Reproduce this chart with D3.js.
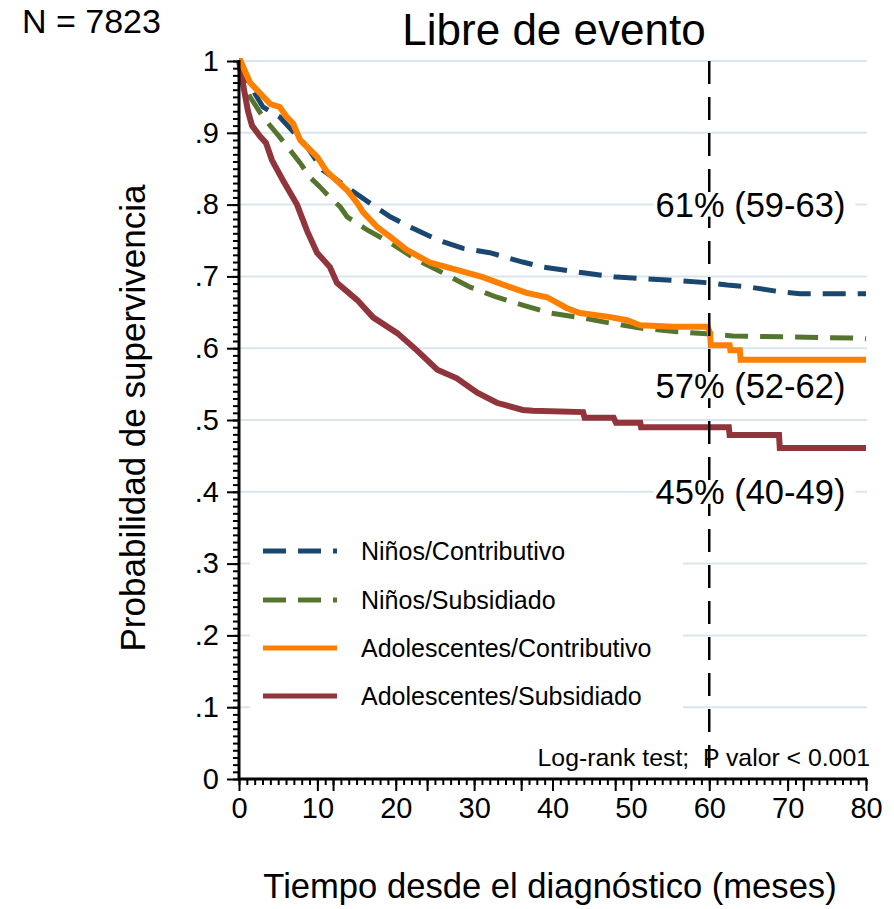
<!DOCTYPE html>
<html><head><meta charset="utf-8">
<script src="https://cdn.jsdelivr.net/npm/d3@7"></script>
<style>
body{margin:0;background:#fff;}
svg text{font-family:"Liberation Sans",Arial,Helvetica,sans-serif;fill:#000;}
</style></head>
<body>
<svg id="chart" width="894" height="909"></svg>
<script>
// ---- data (months, survival probability) ----
const seriesNames = ["Niños/Contributivo","Niños/Subsidiado","Adolescentes/Contributivo","Adolescentes/Subsidiado"];
const ninosContributivo = [[0,1],[1,0.975],[2,0.955],[3.06,0.936],[5.2,0.922],[8.7,0.88],[10.7,0.848],[13.8,0.824],[16.7,0.802],[19.3,0.783],[21.8,0.769],[25.3,0.751],[28.6,0.739],[32,0.733],[36.2,0.72],[38.8,0.713],[43.9,0.705],[48.2,0.699],[54.6,0.695],[60.1,0.691],[62.3,0.688],[65.2,0.685],[69.4,0.678],[71.6,0.676],[80,0.676]];
const ninosSubsidiado = [[0,1],[1,0.96],[1.4,0.95],[2.7,0.928],[3.06,0.922],[5.2,0.894],[6.5,0.876],[7.8,0.858],[9.06,0.838],[10.3,0.825],[11.6,0.81],[12.9,0.797],[13.8,0.783],[16.3,0.765],[19.3,0.747],[22.7,0.723],[26,0.705],[29.5,0.685],[32.9,0.671],[36.2,0.66],[39.7,0.649],[43.9,0.642],[47.3,0.635],[51.2,0.628],[55.9,0.623],[59.7,0.62],[63,0.617],[78.9,0.614],[80,0.613]];
const adolContributivo = [[0,1],[0.2,1],[1.4,0.97],[2.7,0.955],[4,0.94],[5.2,0.936],[6.1,0.922],[6.9,0.913],[7.8,0.89],[10,0.866],[11.2,0.846],[13.8,0.82],[15.1,0.802],[15.8,0.79],[17.6,0.769],[19.3,0.755],[21.4,0.737],[24.4,0.719],[27.8,0.709],[31.1,0.699],[34.6,0.685],[36.7,0.677],[39.3,0.671],[41.8,0.656],[43.5,0.649],[47,0.644],[49.5,0.639],[51.2,0.632],[55.4,0.63],[59.8,0.63],[60.1,0.621],[60.2,0.604],[62.6,0.604],[62.7,0.597],[63.9,0.597],[64,0.584],[80,0.584]];
const adolSubsidiado = [[0,1],[0.64,0.96],[1.15,0.93],[1.66,0.91],[2.68,0.895],[3.44,0.886],[4.2,0.862],[5.6,0.834],[7.4,0.8],[8.7,0.763],[9.95,0.733],[11.6,0.713],[12.5,0.691],[15.1,0.667],[17.1,0.643],[20.2,0.621],[22.7,0.597],[25.3,0.57],[27.8,0.558],[30.4,0.538],[32.9,0.524],[36.2,0.514],[37.5,0.513],[43.9,0.511],[44.1,0.503],[47.8,0.503],[48.1,0.496],[51.2,0.496],[51.3,0.49],[62.5,0.49],[62.6,0.479],[68.9,0.479],[69,0.461],[80,0.461]];
const seriesColors = ["#1a476f","#55752f","#ff7f00","#90353b"];
const seriesDash = ["23,12","23,12",null,null];
const seriesWidth = [5,5,6,6];
const xTicks = [0,10,20,30,40,50,60,70,80];
const yTicks = [0,0.1,0.2,0.3,0.4,0.5,0.6,0.7,0.8,0.9,1];
const yTickLabels = ["0",".1",".2",".3",".4",".5",".6",".7",".8",".9","1"];
const annotations = [{text:"61% (59-63)",y:0.8},{text:"57% (52-62)",y:0.547},{text:"45% (40-49)",y:0.4}];
const refMonth = 60;

const svg = d3.select("#chart");
const x = d3.scaleLinear().domain([0,80]).range([239,866]);
const y = d3.scaleLinear().domain([0,1]).range([779,61]);

// gridlines
svg.append("g").selectAll("line").data(yTicks.filter(d=>d>0)).join("line")
  .attr("x1",240).attr("x2",867).attr("y1",d=>y(d)).attr("y2",d=>y(d))
  .attr("stroke","#dae5ee").attr("stroke-width",2);

// legend box (white) covers gridlines
svg.append("rect").attr("x",250).attr("y",520).attr("width",433).attr("height",205).attr("fill","#fff");

// curves
const allSeries = [ninosContributivo,ninosSubsidiado,adolContributivo,adolSubsidiado];
const line = d3.line().x(d=>x(d[0])).y(d=>y(d[1]));
const drawOrder = [1,0,3,2];
drawOrder.forEach(i=>{
  svg.append("path").datum(allSeries[i]).attr("d",line)
    .attr("fill","none").attr("stroke",seriesColors[i]).attr("stroke-width",seriesWidth[i])
    .attr("stroke-dasharray",seriesDash[i]).attr("stroke-linejoin","miter");
});

// annotation background boxes (cover gridlines)
const annFont = 34.5;
annotations.forEach(a=>{
  const t = svg.append("text").attr("x",750.5).attr("y",y(a.y)+12).attr("text-anchor","middle")
    .attr("font-size",annFont).attr("opacity",0).text(a.text);
  const bb = t.node().getBBox();
  t.remove();
  svg.append("rect").attr("x",bb.x-2).attr("y",bb.y+7).attr("width",bb.width+12).attr("height",bb.height-12).attr("fill","#fff");
});

// vertical reference line
svg.append("line").attr("x1",x(refMonth)).attr("x2",x(refMonth)).attr("y1",61).attr("y2",779)
  .attr("stroke","#000").attr("stroke-width",2.5).attr("stroke-dasharray","23,13");

annotations.forEach(a=>{
  const t = svg.append("text").attr("x",750.5).attr("y",y(a.y)+12).attr("text-anchor","middle")
    .attr("font-size",annFont).attr("opacity",0).text(a.text);
  const bb = t.node().getBBox();
  svg.append("rect").attr("x",bb.x+2).attr("y",bb.y+9).attr("width",bb.width-4).attr("height",bb.height-16).attr("fill","#fff");
  t.raise().attr("opacity",1);
});

// legend
const lg = svg.append("g");
const legendY = [551,600,648,696];
seriesNames.forEach((n,i)=>{
  lg.append("line").attr("x1",263).attr("x2",337).attr("y1",legendY[i]).attr("y2",legendY[i])
    .attr("stroke",seriesColors[i]).attr("stroke-width",5).attr("stroke-dasharray",seriesDash[i]);
  lg.append("text").attr("x",361).attr("y",legendY[i]+9).attr("font-size",25).text(n);
});

// axes
const xMinor = d3.range(0,81,1);
const x12 = [12,24,36,48,72];
function styleAxis(g){ g.select(".domain").remove(); g.selectAll("line").attr("stroke","#000").attr("stroke-width",2); }
svg.append("g").attr("transform","translate(0,779)")
  .call(d3.axisBottom(x).tickValues(xMinor).tickSize(6).tickFormat(""))
  .call(styleAxis);
svg.append("g").attr("transform","translate(0,779)")
  .call(d3.axisBottom(x).tickValues(x12).tickSize(12).tickFormat(""))
  .call(styleAxis);
const xa = svg.append("g").attr("transform","translate(0,779)")
  .call(d3.axisBottom(x).tickValues(xTicks).tickSize(12).tickPadding(6).tickFormat(d3.format("d")))
  .call(styleAxis);
xa.selectAll("text").attr("font-size",29).attr("font-family","Liberation Sans, Arial, sans-serif").attr("fill","#000");

const yMinor = d3.range(0,101).map(d=>d/100);
svg.append("g").attr("transform","translate(239,0)")
  .call(d3.axisLeft(y).tickValues(yMinor).tickSize(6).tickFormat(""))
  .call(styleAxis);
const ya = svg.append("g").attr("transform","translate(239,0)")
  .call(d3.axisLeft(y).tickValues(yTicks).tickSize(12).tickPadding(8).tickFormat((d,i)=>yTickLabels[i]))
  .call(styleAxis);
ya.selectAll("text").attr("font-size",29).attr("font-family","Liberation Sans, Arial, sans-serif").attr("fill","#000");

// axis lines
svg.append("line").attr("x1",239).attr("x2",239).attr("y1",60).attr("y2",780).attr("stroke","#000").attr("stroke-width",3);
svg.append("line").attr("x1",238).attr("x2",867).attr("y1",779).attr("y2",779).attr("stroke","#000").attr("stroke-width",3);

// texts
svg.append("text").attr("x",554).attr("y",45).attr("text-anchor","middle").attr("font-size",44).text("Libre de evento");
svg.append("text").attr("x",22).attr("y",33).attr("font-size",34).text("N = 7823");
svg.append("text").attr("transform","translate(145,418) rotate(-90)").attr("text-anchor","middle").attr("font-size",35).text("Probabilidad de supervivencia");
svg.append("text").attr("x",550).attr("y",898).attr("text-anchor","middle").attr("font-size",34.6).text("Tiempo desde el diagnóstico (meses)");
svg.append("text").attr("x",870).attr("y",766).attr("text-anchor","end").attr("font-size",24.8).style("white-space","pre").text("Log-rank test;  P valor < 0.001");
</script>
</body></html>
